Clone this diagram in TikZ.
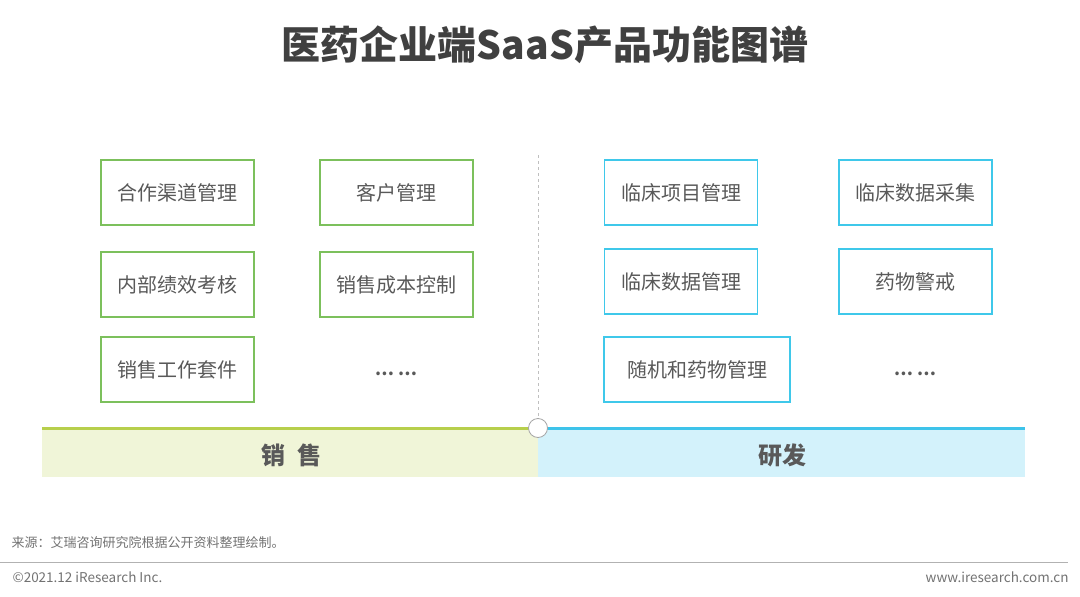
\documentclass[tikz,border=0pt]{standalone}
\usepackage{fontspec}
\setmainfont{Noto Sans CJK SC}
\usepackage{xcolor}
\usepackage{tikz}
\usetikzlibrary{positioning, calc}

\definecolor{salesgreen}{HTML}{7CC05C}
\definecolor{rdcyan}{HTML}{3FC8EA}
\definecolor{salesbar}{HTML}{B7CF4C}
\definecolor{salesfill}{HTML}{F0F5D8}
\definecolor{rdbar}{HTML}{3EC3EA}
\definecolor{rdfill}{HTML}{D3F2FB}
\definecolor{txtgray}{HTML}{595959}
\definecolor{titlegray}{HTML}{404040}

\begin{document}
\begin{tikzpicture}[
  x=1pt, y=-1pt,
  sbox/.style={draw=salesgreen, line width=1.8pt, minimum width=153pt, minimum height=65pt, inner sep=0pt, font=\fontsize{20}{22}\selectfont, text=txtgray},
  rbox/.style={draw=rdcyan, line width=1.8pt, minimum height=65pt, inner sep=0pt, font=\fontsize{20}{22}\selectfont, text=txtgray, minimum width=#1},
  rbox/.default=153pt,
  more/.style={font=\fontsize{17}{19}\selectfont\bfseries, text=txtgray},
  foot/.style={font=\fontsize{13.5}{15}\selectfont, text=txtgray!85},
]
\useasboundingbox (0,0) rectangle (1080,597);

% ── Title ──
\node[font=\fontsize{39}{42}\selectfont\bfseries, text=titlegray] (title) at (545,45) {医药企业端SaaS产品功能图谱};

% ── Sales boxes ──
\node[sbox] (chan) at (177.5,192.5) {合作渠道管理};
\node[sbox] (cust) at (396.5,192.5) {客户管理};
\node[sbox] (perf) at (177.5,284.5) {内部绩效考核};
\node[sbox] (cost) at (396.5,284.5) {销售成本控制};
\node[sbox] (kit)  at (177.5,369.5) {销售工作套件};
\node[more] (smore) at (396,374) {… …};

% ── R&D boxes ──
\node[rbox] (proj) at (681,192.5) {临床项目管理};
\node[rbox] (coll) at (915.5,192.5) {临床数据采集};
\node[rbox] (cdm)  at (681,281.5) {临床数据管理};
\node[rbox] (pv)   at (915.5,281.5) {药物警戒};
\node[rbox=186pt] (rtsm) at (697,369.5) {随机和药物管理};
\node[more] (rmore) at (915,374) {… …};

% ── Divider and bottom bar ──
\coordinate (mid) at (538,428);
\coordinate (divtop) at (538,155);
\fill[salesfill] (42,430) rectangle (538,477);
\fill[rdfill] (538,430) rectangle (1025,477);
\draw[salesbar, line width=3pt] (42,428) -- (mid);
\draw[rdbar, line width=3pt] (mid) -- (1025,428);
\draw[gray!50, dashed, line width=0.8pt] (divtop) -- (mid);
\node[draw=gray!70, fill=white, circle, minimum size=19pt, inner sep=0pt, line width=0.8pt] (knob) at (mid) {};
\node[font=\fontsize{24}{26}\selectfont\bfseries, text=txtgray] (sales) at (291,455) {销\hspace{12pt}售};
\node[font=\fontsize{24}{26}\selectfont\bfseries, text=txtgray] (rd) at (782,455) {研发};

% ── Footer ──
\node[foot, font=\fontsize{13}{15}\selectfont, anchor=west] (src) at (8,543) {来源：艾瑞咨询研究院根据公开资料整理绘制。};
\draw[gray!60, line width=1pt] (0,562) -- (1068,562);
\node[foot, anchor=west] (copy) at (9,577) {©2021.12 iResearch Inc.};
\node[foot, anchor=east] (web) at (1072,577) {www.iresearch.com.cn};
\end{tikzpicture}
\end{document}
